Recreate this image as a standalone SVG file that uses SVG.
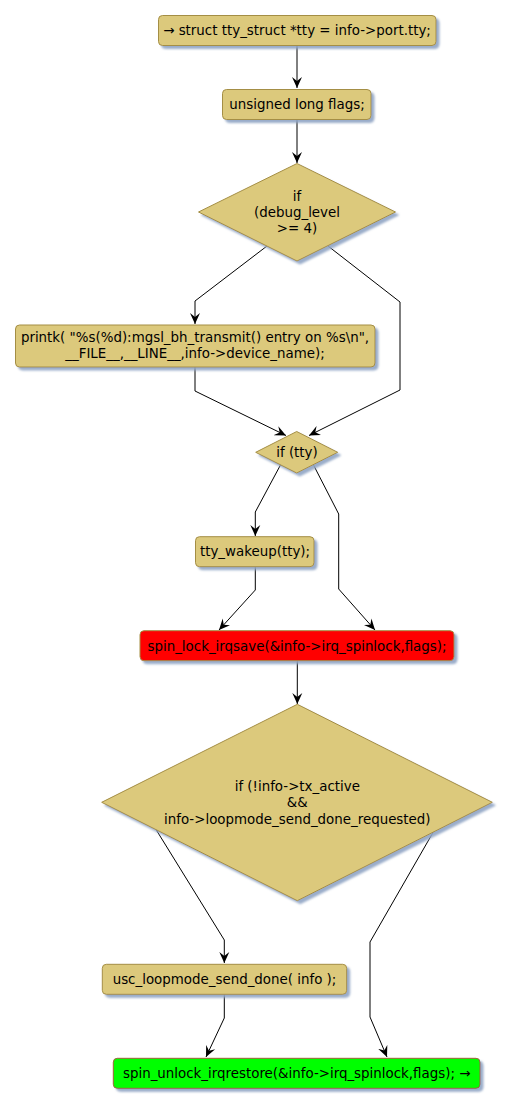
<svg xmlns="http://www.w3.org/2000/svg" width="511" height="1107" viewBox="0 0 511 1107">
<defs>
<filter id="sh" x="-10%" y="-10%" width="130%" height="140%">
<feGaussianBlur in="SourceAlpha" stdDeviation="1.2" result="b"/>
<feOffset in="b" dx="3" dy="3" result="o"/>
<feFlood flood-color="#8FA4C4" flood-opacity="0.9"/>
<feComposite in2="o" operator="in" result="s"/>
<feMerge><feMergeNode in="s"/><feMergeNode in="SourceGraphic"/></feMerge>
</filter>
<marker id="ah" viewBox="0 0 12 12" refX="11" refY="6" markerWidth="12" markerHeight="12" markerUnits="userSpaceOnUse" orient="auto">
<path d="M0,1 L11,6 L0,11 L4,6 Z" fill="#000"/>
</marker>
</defs>
<style>
.n{fill:#DCC97C;stroke:#A48E45;stroke-width:1}
.r{fill:#FF0000;stroke:#A48E45;stroke-width:1}
.g{fill:#00FF00;stroke:#A0603A;stroke-width:1}
text{font-family:"DejaVu Sans",sans-serif;font-size:13.4px;fill:#000;text-anchor:middle}
.e{fill:none;stroke:#000;stroke-width:1;marker-end:url(#ah)}
</style>
<g id="connectors">
<path class="e" d="M297,46 L297,88"/>
<path class="e" d="M297,120 L297,163"/>
<path class="e" d="M267,246 L195,301 L195,324"/>
<path class="e" d="M328,246 L400,302 L400,390 L309,435.5"/>
<path class="e" d="M195,367 L195,391 L286,435.5"/>
<path class="e" d="M281,464 L255.3,512 L255.3,536"/>
<path class="e" d="M313,464 L338.7,514 L338.7,589 L375,630"/>
<path class="e" d="M255.3,567 L255.3,590 L219,630"/>
<path class="e" d="M297.3,661 L297.3,704"/>
<path class="e" d="M155.7,829 L224.3,940 L224.3,963"/>
<path class="e" d="M435,829 L370,942 L370,1017 L387,1057"/>
<path class="e" d="M224.3,994 L224.3,1018 L206,1057"/>
</g>
<g id="n1"><rect class="n" filter="url(#sh)" x="158.5" y="15.5" width="277.5" height="30" rx="4"/><text x="297" y="35">→ struct tty_struct *tty = info-&gt;port.tty;</text></g>
<g id="n2"><rect class="n" filter="url(#sh)" x="222.5" y="89.5" width="148.5" height="30" rx="4"/><text x="297" y="109">unsigned long flags;</text></g>
<g id="n3"><polygon class="n" filter="url(#sh)" points="297,163.5 395.5,212 297,261 198.5,212"/><text x="297" y="201">if</text><text x="297" y="217">(debug_level</text><text x="297" y="233">&gt;= 4)</text></g>
<g id="n4"><rect class="n" filter="url(#sh)" x="15.5" y="325" width="359.5" height="42" rx="4"/><text x="195" y="342">printk( "%s(%d):mgsl_bh_transmit() entry on %s\n",</text><text x="195" y="358">__FILE__,__LINE__,info-&gt;device_name);</text></g>
<g id="n5"><polygon class="n" filter="url(#sh)" points="296.7,431.5 337.7,452.3 296.7,473 255.7,452.3"/><text x="297" y="456.5">if (tty)</text></g>
<g id="n6"><rect class="n" filter="url(#sh)" x="195.5" y="536.7" width="118.5" height="30" rx="4"/><text x="255" y="556">tty_wakeup(tty);</text></g>
<g id="n7"><rect class="r" filter="url(#sh)" x="140" y="630.7" width="314" height="30" rx="4"/><text x="297" y="650.5">spin_lock_irqsave(&amp;info-&gt;irq_spinlock,flags);</text></g>
<g id="n8"><polygon class="n" filter="url(#sh)" points="297.3,704.3 492.3,802.3 297.3,900.7 101.7,802.3"/><text x="297.3" y="791">if (!info-&gt;tx_active</text><text x="297.3" y="807">&amp;&amp;</text><text x="297.3" y="823.5">info-&gt;loopmode_send_done_requested)</text></g>
<g id="n9"><rect class="n" filter="url(#sh)" x="102.3" y="964.3" width="244.4" height="30" rx="4"/><text x="224.5" y="984">usc_loopmode_send_done( info );</text></g>
<g id="n10"><rect class="g" filter="url(#sh)" x="113.3" y="1058.3" width="366.7" height="30" rx="4"/><text x="296.7" y="1078">spin_unlock_irqrestore(&amp;info-&gt;irq_spinlock,flags); →</text></g>
</svg>
